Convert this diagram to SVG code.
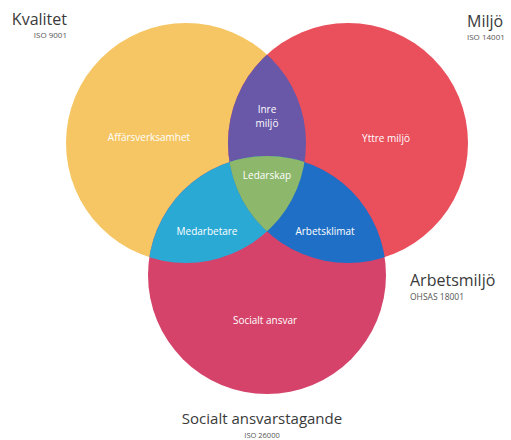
<svg xmlns="http://www.w3.org/2000/svg" width="511" height="440" viewBox="0 0 511 440">
<style>
.lbl{font-family:"Open Sans","DejaVu Sans",sans-serif;font-size:10px;fill:#ffffff;text-anchor:middle}
.title{font-family:"Open Sans","DejaVu Sans",sans-serif;font-size:16px;fill:#3a3a3a}
.sub{font-family:"Open Sans","DejaVu Sans",sans-serif;font-size:8px;fill:#555555}
</style>
<defs>
<clipPath id="cY"><circle cx="186" cy="143" r="120"/></clipPath>
<clipPath id="cR"><circle cx="348" cy="143" r="120"/></clipPath>
<clipPath id="cP"><circle cx="267" cy="275" r="119"/></clipPath>
</defs>
<rect width="511" height="440" fill="#ffffff"/>
<g id="kvalitet">
<circle cx="186" cy="143" r="120" fill="#F5C663"/>
<text class="lbl" x="149" y="141">Affärsverksamhet</text>
<text class="title" x="67" y="25" text-anchor="end">Kvalitet</text>
<text class="sub" x="67" y="38" text-anchor="end">ISO 9001</text>
</g>
<g id="miljo">
<circle cx="348" cy="143" r="120" fill="#EA4F5C"/>
<text class="lbl" x="386" y="142">Yttre miljö</text>
<text class="title" x="467" y="27">Miljö</text>
<text class="sub" x="467" y="40">ISO 14001</text>
</g>
<g id="socialt">
<circle cx="267" cy="275" r="119" fill="#D5436A"/>
<text class="lbl" x="265" y="324">Socialt ansvar</text>
<text class="title" x="262" y="424" text-anchor="middle" style="font-size:15px">Socialt ansvarstagande</text>
<text class="sub" x="262" y="437.5" text-anchor="middle" style="font-size:7.5px">ISO 26000</text>
</g>
<g id="arbetsmiljo">
<text class="title" x="410" y="286">Arbetsmiljö</text>
<text class="sub" x="410" y="300" style="font-size:8.5px">OHSAS 18001</text>
</g>
<g id="inre-miljo">
<circle cx="348" cy="143" r="120" fill="#6958A8" clip-path="url(#cY)"/>
<text class="lbl" x="267" y="113">Inre</text>
<text class="lbl" x="267" y="127">miljö</text>
</g>
<g id="medarbetare">
<circle cx="267" cy="275" r="119" fill="#2AA9D5" clip-path="url(#cY)"/>
<text class="lbl" x="207" y="235">Medarbetare</text>
</g>
<g id="arbetsklimat">
<circle cx="267" cy="275" r="119" fill="#1F6FC6" clip-path="url(#cR)"/>
<text class="lbl" x="325" y="235">Arbetsklimat</text>
</g>
<g id="ledarskap">
<g clip-path="url(#cY)">
<circle cx="267" cy="275" r="119" fill="#8DB86B" clip-path="url(#cR)"/>
</g>
<text class="lbl" x="267" y="179">Ledarskap</text>
</g>
<g id="connectors"/>
</svg>
